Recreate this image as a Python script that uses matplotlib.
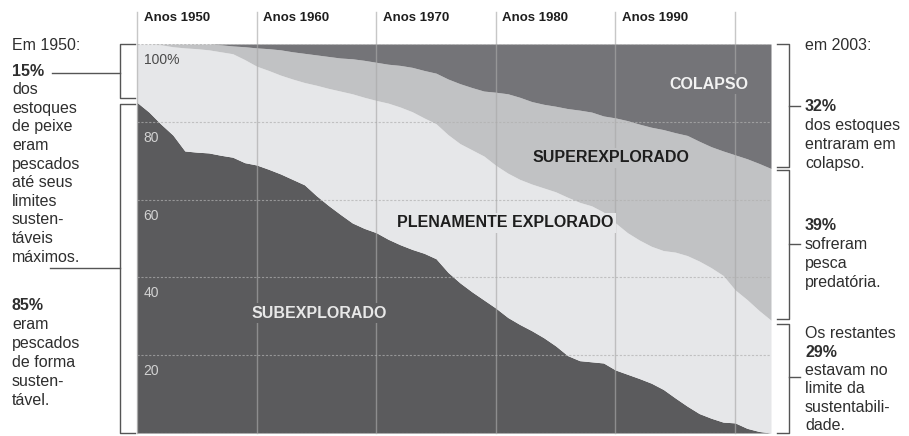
import matplotlib.pyplot as plt
import matplotlib.transforms as mtransforms

plt.rcParams['font.family'] = ['Liberation Sans', 'DejaVu Sans']

anos = list(range(1950, 2004))

# limite superior acumulado (%) de cada faixa, ano a ano
topo_subexplorado = [
    85.0, 82.5, 79.4, 76.6, 72.5, 72.2, 72.0, 71.4, 70.9, 69.5,
    68.9, 67.8, 66.6, 65.2, 63.8, 61.0, 58.5, 56.2, 54.0, 52.6,
    51.5, 49.8, 48.4, 47.2, 46.2, 44.8, 41.3, 38.6, 36.3, 34.2,
    32.1, 29.7, 27.9, 26.3, 24.5, 22.4, 19.9, 18.6, 18.3, 18.0,
    16.2, 15.1, 14.0, 12.8, 11.2, 9.0, 6.9, 5.0, 3.8, 2.8,
    2.6, 1.2, 0.4, 0.0]
topo_plenamente = [
    100, 100, 99.8, 99.3, 99.0, 98.8, 98.5, 98.0, 97.5, 96.0,
    94.3, 93.2, 92.0, 91.0, 90.1, 89.4, 88.6, 87.9, 87.2, 86.3,
    85.5, 84.8, 83.8, 82.6, 81.0, 79.5, 76.7, 74.4, 72.8, 71.2,
    68.8, 66.8, 65.2, 64.0, 63.0, 62.0, 60.6, 59.3, 58.4, 56.8,
    54.0, 51.5, 49.6, 48.0, 46.9, 46.5, 45.6, 44.2, 42.5, 40.5,
    36.8, 34.3, 31.5, 29.0]
topo_superexplorado = [
    100, 100, 100, 100, 100, 100, 100, 99.8, 99.5, 99.3,
    99.0, 98.8, 98.5, 98.0, 97.6, 97.2, 96.8, 96.4, 96.2, 95.8,
    95.3, 94.8, 94.5, 94.0, 93.2, 92.5, 91.0, 89.8, 88.8, 87.9,
    87.6, 87.2, 86.3, 85.2, 84.5, 84.0, 83.4, 83.0, 82.5, 81.5,
    81.0, 80.3, 79.4, 78.6, 78.0, 77.2, 76.5, 75.0, 73.6, 72.5,
    71.5, 70.5, 69.3, 68.0]

decadas = [1950, 1960, 1970, 1980, 1990, 2000]
rotulos_decadas = ['Anos 1950', 'Anos 1960', 'Anos 1970', 'Anos 1980', 'Anos 1990', '']
grade_y = [0, 20, 40, 60, 80, 100]
marcas_y = [20, 40, 60, 80, 100]
rotulos_y = ['20', '40', '60', '80', '100%']

cor_sub = '#5b5b5d'
cor_plena = '#e6e7e9'
cor_super = '#c1c2c4'
cor_colapso = '#747478'
cor_texto = '#2e2e2e'

fig = plt.figure(figsize=(9.09, 4.36), dpi=100)
ax = fig.add_axes([137 / 909, 3 / 436, 634 / 909, 389 / 436])

ax.fill_between(anos, 0, topo_subexplorado, color=cor_sub, lw=0, zorder=1)
ax.fill_between(anos, topo_subexplorado, topo_plenamente, color=cor_plena, lw=0, zorder=1)
ax.fill_between(anos, topo_plenamente, topo_superexplorado, color=cor_super, lw=0, zorder=1)
ax.fill_between(anos, topo_superexplorado, 100, color=cor_colapso, lw=0, zorder=1)

ax.set_xlim(1950, 2003)
ax.set_ylim(0, 100)
ax.axis('off')

for v in grade_y:
    ax.axhline(v, color='#b0b0b0', alpha=0.7, lw=0.8, ls=(0, (2, 1.5)), zorder=2)

for d, r in zip(decadas, rotulos_decadas):
    ax.axvline(d, ymin=0, ymax=1.082, color='#a9a9a9', alpha=0.65, lw=1.0,
               clip_on=False, zorder=3)
    ax.text(d + 0.55, 106.7, r, fontsize=9.5, fontweight='bold', color='#1e1e1e',
            ha='left', va='center')

for v, r in zip(marcas_y, rotulos_y):
    cor = '#4a4a4a' if v == 100 else '#d2d2d2'
    ax.text(1950.55, v - 4.1, r, fontsize=10, color=cor, ha='left', va='center', zorder=4)

# rótulos das faixas (o fundo interrompe as linhas das décadas)
def rotulo(x, y, s, cor, fundo):
    ax.text(x, y, s, fontsize=11.5, fontweight='bold', color=cor, ha='center', va='center',
            zorder=5, bbox=dict(boxstyle='square,pad=0.15', fc=fundo, ec='none'))

rotulo(1997.8, 89.7, 'COLAPSO', '#f2f2f2', cor_colapso)
rotulo(1989.6, 70.7, 'SUPEREXPLORADO', '#1e1e1e', cor_super)
rotulo(1980.8, 54.0, 'PLENAMENTE EXPLORADO', '#1e1e1e', cor_plena)
rotulo(1965.2, 30.8, 'SUBEXPLORADO', '#e8e8e8', cor_sub)

# anotações laterais
tr = mtransforms.blended_transform_factory(ax.transAxes, ax.transData)

def fx(px):
    return (px - 137) / 634

def fy(py):
    return (433 - py) / 389 * 100

def py_de(v):
    return 433 - v * 3.89

def linha(xs, ys):
    ax.plot([fx(x) for x in xs], ys, color='#555555', lw=1, transform=tr, clip_on=False)

def chave(x_ponta, x_barra, y0, y1):
    linha([x_ponta, x_barra, x_barra, x_ponta], [y0, y0, y1, y1])

def bloco(px, py0, passo, linhas):
    for i, (s, negrito) in enumerate(linhas):
        ax.text(fx(px), fy(py0 + i * passo), s, transform=tr, fontsize=11.5,
                fontweight='bold' if negrito else 'normal', color=cor_texto,
                ha='left', va='center', clip_on=False)

# lado esquerdo (1950)
lim_1950 = topo_subexplorado[0]
meio_15 = (100 + lim_1950) / 2
chave(135, 120, 100, lim_1950 + 1.2)
chave(135, 120, lim_1950 - 0.3, 0)
linha([52, 120], [meio_15, meio_15])
linha([50, 120], [lim_1950 / 2, lim_1950 / 2])

bloco(12, 45, 18.6, [('Em 1950:', False)])
bloco(12, py_de(meio_15) - 2, 18.6,
      [('15%', True), ('dos', False), ('estoques', False), ('de peixe', False),
       ('eram', False), ('pescados', False), ('até seus', False), ('limites', False),
       ('susten-', False), ('táveis', False), ('máximos.', False)])
bloco(12, 305, 19, [('85%', True), ('eram', False), ('pescados', False),
                    ('de forma', False), ('susten-', False), ('tável.', False)])

# lado direito (2003)
lim_colapso = topo_superexplorado[-1]
lim_plena = topo_plenamente[-1]
chave(777, 789, 100, lim_colapso + 0.4)
chave(777, 789, lim_colapso - 0.4, lim_plena + 0.4)
chave(777, 789, lim_plena - 0.9, 0)
meio_a = (100 + lim_colapso) / 2
meio_b = (lim_colapso + lim_plena) / 2
meio_c = lim_plena / 2
for m in (meio_a, meio_b, meio_c):
    linha([789, 800], [m, m])

bloco(805, 45, 19, [('em 2003:', False)])
bloco(805, py_de(meio_a), 19, [('32%', True), ('dos estoques', False),
                               ('entraram em', False), ('colapso.', False)])
bloco(805, py_de(meio_b) - 19, 19, [('39%', True), ('sofreram', False),
                                    ('pesca', False), ('predatória.', False)])
bloco(805, 334, 18.3, [('Os restantes', False), ('29%', True),
                       ('estavam no', False), ('limite da', False),
                       ('sustentabili-', False), ('dade.', False)])

plt.savefig('out.png', dpi=100)
